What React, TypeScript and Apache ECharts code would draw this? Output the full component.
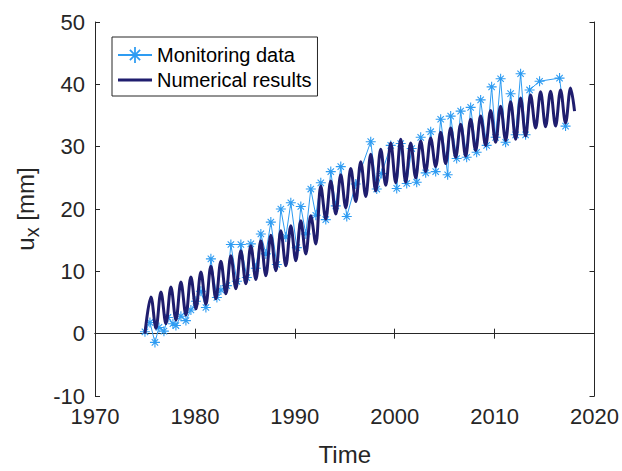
import React, { useEffect, useRef } from "react";
import * as echarts from "echarts";

// Monitoring data (time in years, displacement u_x in mm)
const monitoringYears = [
  1975.0, 1975.5, 1976.0, 1976.4, 1976.9, 1977.3, 1977.8, 1978.1, 1978.6, 1979.1,
  1979.6, 1980.1, 1980.6, 1981.1, 1981.6, 1982.2, 1982.6, 1983.2, 1983.6, 1984.2,
  1984.6, 1985.2, 1985.6, 1986.1, 1986.6, 1987.1, 1987.6, 1988.2, 1988.6, 1989.1,
  1989.6, 1990.2, 1990.6, 1991.1, 1991.6, 1992.1, 1992.6, 1993.1, 1993.6, 1994.1,
  1994.6, 1995.2, 1996.1, 1997.6, 1998.2, 1998.7, 1999.6, 2000.2, 2000.6, 2001.2,
  2001.7, 2002.2, 2002.6, 2003.1, 2003.6, 2004.1, 2004.6, 2005.3, 2005.6, 2006.2,
  2006.6, 2007.2, 2007.6, 2008.2, 2008.6, 2009.2, 2009.7, 2010.1, 2010.6, 2011.1,
  2011.6, 2012.1, 2012.6, 2013.1, 2013.5, 2014.5, 2016.5, 2017.1,
];
const monitoringValues = [
  0.3, 1.8, -1.4, 1.0, 0.4, 2.6, 1.6, 1.3, 2.8, 2.1,
  3.8, 5.2, 6.8, 4.2, 12.0, 5.8, 7.0, 7.7, 14.3, 8.4,
  14.3, 9.0, 14.4, 10.5, 16.0, 12.8, 17.9, 11.1, 20.0, 15.5,
  21.0, 13.8, 20.4, 16.0, 23.2, 19.0, 24.2, 18.3, 26.0, 20.5,
  26.8, 18.8, 24.0, 30.8, 23.2, 25.7, 30.2, 23.3, 30.5, 24.1,
  29.7, 24.3, 31.5, 25.8, 32.4, 26.0, 34.4, 25.5, 34.9, 28.1,
  35.7, 28.3, 36.3, 29.1, 37.5, 30.2, 39.6, 31.5, 40.9, 30.7,
  38.5, 31.9, 41.7, 31.9, 39.1, 40.5, 41.0, 33.3,
];

// Numerical results: yearly seasonal maxima and minima
const numStart: [number, number] = [1975.0, 0.0];
const numEnd: [number, number] = [2018.0, 35.7];
const peakYears = [
  1975, 1976, 1977, 1978, 1979, 1980, 1981, 1982, 1983, 1984, 1985, 1986, 1987, 1988, 1989,
  1990, 1991, 1992, 1993, 1994, 1995, 1996, 1997, 1998, 1999, 2000, 2001, 2002, 2003, 2004,
  2005, 2006, 2007, 2008, 2009, 2010, 2011, 2012, 2013, 2014, 2015, 2016, 2017,
];
const numPeaks = [
  5.9, 6.7, 7.5, 8.3, 9.1, 9.9, 10.8, 11.6, 12.5, 13.3, 14.1, 14.9, 15.8, 16.5, 17.3,
  18.1, 18.9, 23.7, 24.5, 25.5, 26.5, 27.6, 28.8, 29.6, 30.6, 31.2, 30.6, 30.9, 31.4, 32.3,
  33.0, 33.6, 34.4, 34.9, 35.8, 36.5, 37.2, 37.8, 38.3, 38.8, 38.9, 39.1, 39.4,
];
// minima for 1976..2017
const numTroughs = [
  0.85, 1.6, 2.2, 3.0, 4.0, 4.7, 5.6, 6.4, 7.2, 8.0, 8.7, 9.3, 10.1, 10.9, 11.7,
  12.8, 14.4, 18.4, 19.2, 20.2, 21.2, 22.0, 22.9, 23.8, 24.2, 24.3, 25.0, 26.0, 26.8, 27.3,
  28.3, 28.5, 29.4, 30.2, 30.7, 31.0, 31.2, 31.7, 33.0, 33.2, 33.3, 33.8,
];
const peakPhase = 0.6;
const troughPhase = 0.1;

const xTicks = { min: 1970, max: 2020, interval: 10 };
const yTicks = { min: -10, max: 50, interval: 10 };

const FONT = "'Liberation Sans', Arial, Helvetica, sans-serif";
const AXIS = "#262626";
const NAVY = "#1f1d6e";
const LIGHT = "#2e9cf2";

function buildNumerical(): [number, number][] {
  const out: [number, number][] = [numStart];
  for (let i = 0; i < peakYears.length; i++) {
    out.push([peakYears[i] + peakPhase, numPeaks[i]]);
    if (i < numTroughs.length) out.push([peakYears[i] + 1 + troughPhase, numTroughs[i]]);
  }
  out.push(numEnd);
  return out;
}

const STAR =
  "path://M0 8.9H20V11.1H0Z M8.9 0H11.1V20H8.9Z M4.38 2.82L17.18 15.62L15.62 17.18L2.82 4.38Z M17.18 4.38L4.38 17.18L2.82 15.62L15.62 2.82Z";
const BAR = "path://M0 0H34V3H0Z";

export default function App() {
  const ref = useRef<HTMLDivElement>(null);
  useEffect(() => {
    if (!ref.current) return;
    const chart = echarts.init(ref.current, undefined, { renderer: "svg" });
    const monitoring = monitoringYears.map((y, i) => [y, monitoringValues[i]]);
    const hiddenAxis = {
      axisLine: { show: true, lineStyle: { color: AXIS, width: 1 } },
      axisTick: { show: true, inside: true, length: 5, lineStyle: { color: AXIS } },
      axisLabel: { show: false },
      splitLine: { show: false },
    };
    const plain = (v: number) => String(v);
    chart.setOption({
      animation: false,
      backgroundColor: "#ffffff",
      grid: { left: 95, right: 27, top: 22, bottom: 67 },
      legend: {
        left: 112,
        top: 37,
        orient: "vertical",
        borderColor: AXIS,
        borderWidth: 1,
        padding: [8, 6, 6, 5],
        itemGap: 5,
        itemWidth: 34,
        itemHeight: 20,
        itemTextGap: 5,
        backgroundColor: "#ffffff",
        textStyle: { fontSize: 20, color: "#000", fontFamily: FONT },
        data: [
          { name: "Monitoring data" },
          { name: "Numerical results", icon: BAR, itemStyle: { color: NAVY } },
        ],
      },
      xAxis: [
        {
          type: "value",
          min: xTicks.min,
          max: xTicks.max,
          interval: xTicks.interval,
          name: "Time",
          nameLocation: "middle",
          nameGap: 46,
          nameTextStyle: { fontSize: 24, color: AXIS, fontFamily: FONT },
          axisLine: { show: true, lineStyle: { color: AXIS, width: 1 } },
          axisTick: { show: true, inside: true, length: 5, lineStyle: { color: AXIS } },
          axisLabel: { fontSize: 22, color: AXIS, fontFamily: FONT, margin: 9, formatter: plain },
          splitLine: { show: false },
        },
        {
          type: "value",
          position: "top",
          min: xTicks.min,
          max: xTicks.max,
          interval: xTicks.interval,
          ...hiddenAxis,
        },
      ],
      yAxis: [
        {
          type: "value",
          min: yTicks.min,
          max: yTicks.max,
          interval: yTicks.interval,
          name: "{u|u}{x|x}{u| [mm]}",
          nameLocation: "middle",
          nameGap: 42,
          nameRotate: 90,
          nameTextStyle: {
            fontSize: 24,
            color: AXIS,
            fontFamily: FONT,
            rich: {
              u: { fontSize: 24, color: AXIS, fontFamily: FONT },
              x: { fontSize: 20, color: AXIS, fontFamily: FONT, padding: [14, 0, 0, 0] },
            },
          },
          axisLine: { show: true, lineStyle: { color: AXIS, width: 1 } },
          axisTick: { show: true, inside: true, length: 5, lineStyle: { color: AXIS } },
          axisLabel: { fontSize: 22, color: AXIS, fontFamily: FONT, margin: 10, formatter: plain },
          splitLine: { show: false },
        },
        {
          type: "value",
          position: "right",
          min: yTicks.min,
          max: yTicks.max,
          interval: yTicks.interval,
          ...hiddenAxis,
        },
      ],
      series: [
        {
          name: "Monitoring data",
          type: "line",
          data: monitoring,
          symbol: STAR,
          symbolSize: 10,
          showAllSymbol: true,
          lineStyle: { color: LIGHT, width: 1 },
          itemStyle: { color: LIGHT },
          z: 2,
        },
        {
          name: "Numerical results",
          type: "line",
          data: buildNumerical(),
          symbol: "none",
          smooth: 0.35,
          lineStyle: { color: NAVY, width: 3 },
          itemStyle: { color: NAVY },
          z: 3,
        },
      ],
    });
    return () => chart.dispose();
  }, []);
  return (
    <div
      ref={ref}
      style={{ position: "fixed", left: 0, top: 0, width: 622, height: 471, background: "#fff" }}
    />
  );
}
